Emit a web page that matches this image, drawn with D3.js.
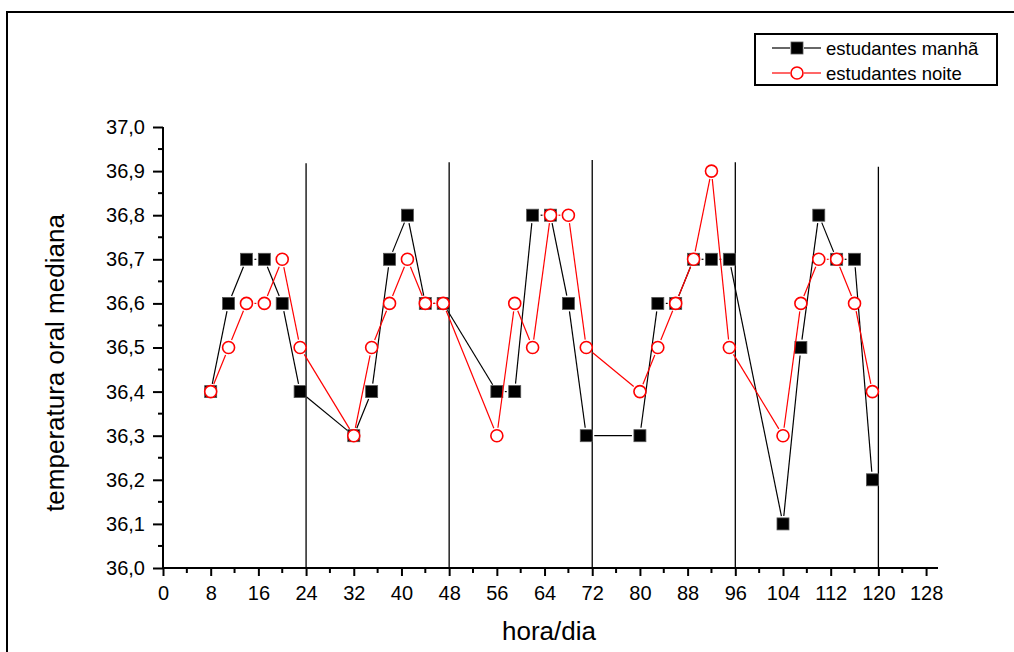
<!DOCTYPE html>
<html>
<head>
<meta charset="utf-8">
<script src="https://cdn.jsdelivr.net/npm/d3@7"></script>
<style>
  html, body { margin: 0; padding: 0; background: #fff; }
  svg { display: block; font-family: "Liberation Sans", Arial, sans-serif; }
</style>
</head>
<body>
<svg id="chart" width="1014" height="652"></svg>
<script>
// ---- data ----
const hours = [8, 11, 14, 17, 20, 23, 32, 35, 38, 41, 44, 47, 56, 59, 62, 65, 68, 71, 80, 83, 86, 89, 92, 95, 104, 107, 110, 113, 116, 119];
const manha = [36.4, 36.6, 36.7, 36.7, 36.6, 36.4, 36.3, 36.4, 36.7, 36.8, 36.6, 36.6, 36.4, 36.4, 36.8, 36.8, 36.6, 36.3, 36.3, 36.6, 36.6, 36.7, 36.7, 36.7, 36.1, 36.5, 36.8, 36.7, 36.7, 36.2];
const noite = [36.4, 36.5, 36.6, 36.6, 36.7, 36.5, 36.3, 36.5, 36.6, 36.7, 36.6, 36.6, 36.3, 36.6, 36.5, 36.8, 36.8, 36.5, 36.4, 36.5, 36.6, 36.7, 36.9, 36.5, 36.3, 36.6, 36.7, 36.7, 36.6, 36.4];
const dayLines = [24, 48, 72, 96, 120];
const dayLineTops = [36.918, 36.92, 36.925, 36.92, 36.91];
const xTicks = [0, 8, 16, 24, 32, 40, 48, 56, 64, 72, 80, 88, 96, 104, 112, 120, 128];
const yTicks = [36.0, 36.1, 36.2, 36.3, 36.4, 36.5, 36.6, 36.7, 36.8, 36.9, 37.0];
const seriesNames = ["estudantes manhã", "estudantes noite"];

// ---- layout ----
const svg = d3.select("#chart");
const x = d3.scaleLinear().domain([0, 130]).range([163, 938]);
const y = d3.scaleLinear().domain([36.0, 37.0]).range([568, 127]);

// outer frame
svg.append("rect").attr("x", 7).attr("y", 12).attr("width", 1030).attr("height", 700)
  .attr("fill", "none").attr("stroke", "#000").attr("stroke-width", 2);

// vertical day separators
svg.append("g").selectAll("line").data(dayLines).join("line")
  .attr("x1", d => x(d)).attr("x2", d => x(d))
  .attr("y1", y(36.0)).attr("y2", (d, i) => y(dayLineTops[i]))
  .attr("stroke", "#000").attr("stroke-width", 1.3);

// x axis
const xAxis = d3.axisBottom(x).tickValues(xTicks).tickSize(8).tickPadding(10).tickFormat(d3.format("d"));
const gx = svg.append("g").attr("transform", `translate(0,${y(36.0)})`).call(xAxis);
gx.select(".domain").remove();
gx.append("line").attr("x1", x(0) - 1).attr("x2", x(130)).attr("y1", 0).attr("y2", 0).attr("stroke", "#000").attr("stroke-width", 2);
gx.selectAll(".tick line").attr("stroke-width", 2);
gx.selectAll(".tick text").attr("font-size", 20).attr("fill", "#000").attr("font-family", "Liberation Sans, Arial, sans-serif");
const xMinor = d3.range(4, 130, 8);
gx.append("g").selectAll("line").data(xMinor).join("line")
  .attr("x1", d => x(d)).attr("x2", d => x(d)).attr("y1", 0).attr("y2", 5)
  .attr("stroke", "#000").attr("stroke-width", 2);

// y axis
const fmtY = v => d3.format(".1f")(v).replace(".", ",");
const yAxis = d3.axisLeft(y).tickValues(yTicks).tickSize(10).tickPadding(8).tickFormat(fmtY);
const gy = svg.append("g").attr("transform", `translate(${x(0)},0)`).call(yAxis);
gy.select(".domain").remove();
gy.append("line").attr("x1", 0).attr("x2", 0).attr("y1", y(36.0) + 1).attr("y2", y(37.0)).attr("stroke", "#000").attr("stroke-width", 2);
gy.selectAll(".tick line").attr("stroke-width", 2);
gy.selectAll(".tick text").attr("font-size", 20).attr("fill", "#000").attr("font-family", "Liberation Sans, Arial, sans-serif");
const yMinor = d3.range(0, 10).map(i => 36.05 + i * 0.1);
gy.append("g").selectAll("line").data(yMinor).join("line")
  .attr("x1", -5).attr("x2", 0).attr("y1", d => y(d)).attr("y2", d => y(d))
  .attr("stroke", "#000").attr("stroke-width", 2);

// axis titles
svg.append("text").attr("x", 549).attr("y", 640).attr("text-anchor", "middle")
  .attr("font-size", 26).attr("fill", "#000").text("hora/dia");
svg.append("text").attr("transform", "translate(64,363) rotate(-90)").attr("text-anchor", "middle")
  .attr("font-size", 26).attr("fill", "#000").text("temperatura oral mediana");

// series drawing helper: segments with gaps near symbols
function drawSeries(values, color, gap) {
  const pts = hours.map((h, i) => [x(h), y(values[i])]);
  const segs = [];
  for (let i = 0; i < pts.length - 1; i++) {
    const [x1, y1] = pts[i], [x2, y2] = pts[i + 1];
    const dx = x2 - x1, dy = y2 - y1, len = Math.hypot(dx, dy);
    if (len <= 2 * gap) continue;
    const ux = dx / len, uy = dy / len;
    segs.push([x1 + ux * gap, y1 + uy * gap, x2 - ux * gap, y2 - uy * gap]);
  }
  const g = svg.append("g");
  g.selectAll("line").data(segs).join("line")
    .attr("x1", d => d[0]).attr("y1", d => d[1]).attr("x2", d => d[2]).attr("y2", d => d[3])
    .attr("stroke", color).attr("stroke-width", 1.2);
  return g;
}

// manhã series
const gm = drawSeries(manha, "#000", 8);
gm.selectAll("rect").data(hours).join("rect")
  .attr("x", d => x(d) - 6).attr("y", (d, i) => y(manha[i]) - 6)
  .attr("width", 12).attr("height", 12)
  .attr("fill", "#000").attr("stroke", "#555").attr("stroke-width", 0.8);

// noite series
const gn = drawSeries(noite, "#ff0000", 8);
gn.selectAll("circle").data(hours).join("circle")
  .attr("cx", d => x(d)).attr("cy", (d, i) => y(noite[i])).attr("r", 6)
  .attr("fill", "#fff").attr("stroke", "#ff0000").attr("stroke-width", 1.6);

// legend
const lg = svg.append("g");
lg.append("rect").attr("x", 755).attr("y", 34).attr("width", 242).attr("height", 51)
  .attr("fill", "#fff").attr("stroke", "#000").attr("stroke-width", 2);
const legendRows = [
  { name: seriesNames[0], color: "#000", sym: "square", cy: 48 },
  { name: seriesNames[1], color: "#ff0000", sym: "circle", cy: 73 }
];
legendRows.forEach(r => {
  lg.append("line").attr("x1", 772).attr("x2", 790).attr("y1", r.cy).attr("y2", r.cy).attr("stroke", r.color).attr("stroke-width", 1.2);
  lg.append("line").attr("x1", 804).attr("x2", 821).attr("y1", r.cy).attr("y2", r.cy).attr("stroke", r.color).attr("stroke-width", 1.2);
  if (r.sym === "square") {
    lg.append("rect").attr("x", 791).attr("y", r.cy - 6).attr("width", 12).attr("height", 12)
      .attr("fill", "#000").attr("stroke", "#555").attr("stroke-width", 0.8);
  } else {
    lg.append("circle").attr("cx", 797).attr("cy", r.cy).attr("r", 6)
      .attr("fill", "#fff").attr("stroke", r.color).attr("stroke-width", 1.6);
  }
  lg.append("text").attr("x", 826).attr("y", r.cy + 6.5).attr("font-size", 18.5).attr("fill", "#000").text(r.name);
});
</script>
</body>
</html>
